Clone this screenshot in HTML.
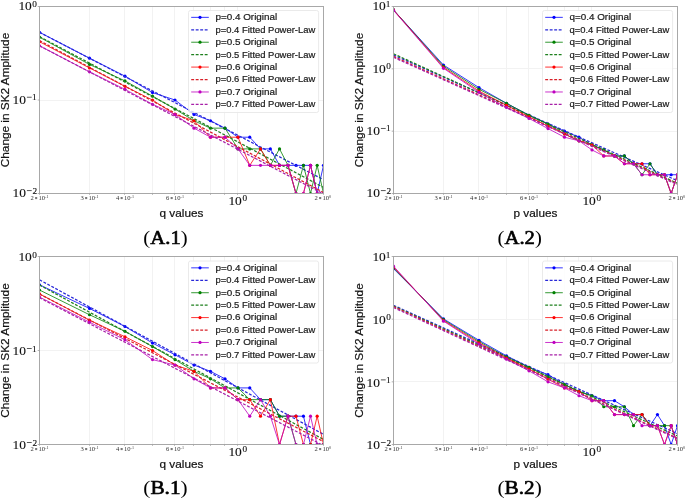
<!DOCTYPE html>
<html><head><meta charset="utf-8"><title>Figure</title>
<style>html,body{margin:0;padding:0;background:#fff;width:685px;height:499px;overflow:hidden}svg{display:block;will-change:transform}</style>
</head><body>
<svg width="685" height="499" viewBox="0 0 685 499"><defs><clipPath id="cA1"><rect x="39.5" y="6.5" width="284" height="187"/></clipPath><clipPath id="cA2"><rect x="393.5" y="6.5" width="284" height="187"/></clipPath><clipPath id="cB1"><rect x="39.5" y="256.5" width="284" height="188"/></clipPath><clipPath id="cB2"><rect x="393.5" y="256.5" width="284" height="188"/></clipPath></defs><g><path d="M89.5 6.5V193.5M124.5 6.5V193.5M152.5 6.5V193.5M174.5 6.5V193.5M193.5 6.5V193.5M210.5 6.5V193.5M224.5 6.5V193.5M237.5 6.5V193.5M39.5 100.5H323.5" stroke="#f2f2f2" stroke-width="1" fill="none"/><g clip-path="url(#cA1)"><polyline points="39.5,32.28 89.51,58.19 124.99,76.13 152.51,92.6 175,100 194.02,114.48 210.49,120.74 225.01,128.15 238.01,137.21 249.76,137.21 260.49,148.89 270.37,148.89 279.51,165.35 288.02,165.35 295.98,165.35 303.45,165.35 310.5,165.35 317.17,193.5 323.5,165.35" fill="none" stroke="#0000ff" stroke-width="0.8" stroke-linejoin="round"/><circle cx="39.5" cy="32.28" r="1.6" fill="#0000ff"/><circle cx="89.51" cy="58.19" r="1.6" fill="#0000ff"/><circle cx="124.99" cy="76.13" r="1.6" fill="#0000ff"/><circle cx="152.51" cy="92.6" r="1.6" fill="#0000ff"/><circle cx="175" cy="100" r="1.6" fill="#0000ff"/><circle cx="194.02" cy="114.48" r="1.6" fill="#0000ff"/><circle cx="210.49" cy="120.74" r="1.6" fill="#0000ff"/><circle cx="225.01" cy="128.15" r="1.6" fill="#0000ff"/><circle cx="238.01" cy="137.21" r="1.6" fill="#0000ff"/><circle cx="249.76" cy="137.21" r="1.6" fill="#0000ff"/><circle cx="260.49" cy="148.89" r="1.6" fill="#0000ff"/><circle cx="270.37" cy="148.89" r="1.6" fill="#0000ff"/><circle cx="279.51" cy="165.35" r="1.6" fill="#0000ff"/><circle cx="288.02" cy="165.35" r="1.6" fill="#0000ff"/><circle cx="295.98" cy="165.35" r="1.6" fill="#0000ff"/><circle cx="303.45" cy="165.35" r="1.6" fill="#0000ff"/><circle cx="310.5" cy="165.35" r="1.6" fill="#0000ff"/><circle cx="317.17" cy="193.5" r="1.6" fill="#0000ff"/><circle cx="323.5" cy="165.35" r="1.6" fill="#0000ff"/><line x1="39.5" y1="32.3" x2="323.5" y2="179.7" stroke="#2828d8" stroke-width="1.25" stroke-dasharray="2.9 1.6"/><polyline points="39.5,37.16 89.51,64.45 124.99,80.91 152.51,96.13 175,109.06 194.02,120.74 210.49,128.15 225.01,128.15 238.01,148.89 249.76,148.89 260.49,148.89 270.37,165.35 279.51,148.89 288.02,165.35 295.98,193.5 303.45,165.35 310.5,193.5 317.17,165.35 323.5,193.5" fill="none" stroke="#008000" stroke-width="0.8" stroke-linejoin="round"/><circle cx="39.5" cy="37.16" r="1.6" fill="#008000"/><circle cx="89.51" cy="64.45" r="1.6" fill="#008000"/><circle cx="124.99" cy="80.91" r="1.6" fill="#008000"/><circle cx="152.51" cy="96.13" r="1.6" fill="#008000"/><circle cx="175" cy="109.06" r="1.6" fill="#008000"/><circle cx="194.02" cy="120.74" r="1.6" fill="#008000"/><circle cx="210.49" cy="128.15" r="1.6" fill="#008000"/><circle cx="225.01" cy="128.15" r="1.6" fill="#008000"/><circle cx="238.01" cy="148.89" r="1.6" fill="#008000"/><circle cx="249.76" cy="148.89" r="1.6" fill="#008000"/><circle cx="260.49" cy="148.89" r="1.6" fill="#008000"/><circle cx="270.37" cy="165.35" r="1.6" fill="#008000"/><circle cx="279.51" cy="148.89" r="1.6" fill="#008000"/><circle cx="288.02" cy="165.35" r="1.6" fill="#008000"/><circle cx="295.98" cy="193.5" r="1.6" fill="#008000"/><circle cx="303.45" cy="165.35" r="1.6" fill="#008000"/><circle cx="310.5" cy="193.5" r="1.6" fill="#008000"/><circle cx="317.17" cy="165.35" r="1.6" fill="#008000"/><circle cx="323.5" cy="193.5" r="1.6" fill="#008000"/><line x1="39.5" y1="36.6" x2="323.5" y2="187.4" stroke="#1e801e" stroke-width="1.25" stroke-dasharray="2.9 1.6"/><polyline points="39.5,41.73 89.51,67.98 124.99,86.34 152.51,100 175,114.48 194.02,120.74 210.49,137.21 225.01,137.21 238.01,137.21 249.76,165.35 260.49,148.89 270.37,165.35 279.51,165.35 288.02,165.35 295.98,193.5 303.45,193.5 310.5,165.35 317.17,193.5 323.5,193.5" fill="none" stroke="#ff0000" stroke-width="0.8" stroke-linejoin="round"/><circle cx="39.5" cy="41.73" r="1.6" fill="#ff0000"/><circle cx="89.51" cy="67.98" r="1.6" fill="#ff0000"/><circle cx="124.99" cy="86.34" r="1.6" fill="#ff0000"/><circle cx="152.51" cy="100" r="1.6" fill="#ff0000"/><circle cx="175" cy="114.48" r="1.6" fill="#ff0000"/><circle cx="194.02" cy="120.74" r="1.6" fill="#ff0000"/><circle cx="210.49" cy="137.21" r="1.6" fill="#ff0000"/><circle cx="225.01" cy="137.21" r="1.6" fill="#ff0000"/><circle cx="238.01" cy="137.21" r="1.6" fill="#ff0000"/><circle cx="249.76" cy="165.35" r="1.6" fill="#ff0000"/><circle cx="260.49" cy="148.89" r="1.6" fill="#ff0000"/><circle cx="270.37" cy="165.35" r="1.6" fill="#ff0000"/><circle cx="279.51" cy="165.35" r="1.6" fill="#ff0000"/><circle cx="288.02" cy="165.35" r="1.6" fill="#ff0000"/><circle cx="295.98" cy="193.5" r="1.6" fill="#ff0000"/><circle cx="303.45" cy="193.5" r="1.6" fill="#ff0000"/><circle cx="310.5" cy="165.35" r="1.6" fill="#ff0000"/><circle cx="317.17" cy="193.5" r="1.6" fill="#ff0000"/><circle cx="323.5" cy="193.5" r="1.6" fill="#ff0000"/><line x1="39.5" y1="40.6" x2="323.5" y2="192.5" stroke="#d82028" stroke-width="1.25" stroke-dasharray="2.9 1.6"/><polyline points="39.5,45.79 89.51,71.85 124.99,89.35 152.51,104.28 175,114.48 194.02,128.15 210.49,137.21 225.01,137.21 238.01,148.89 249.76,165.35 260.49,165.35 270.37,165.35 279.51,165.35 288.02,165.35 295.98,193.5 303.45,193.5 310.5,165.35 317.17,193.5 323.5,193.5" fill="none" stroke="#bf00bf" stroke-width="0.8" stroke-linejoin="round"/><circle cx="39.5" cy="45.79" r="1.6" fill="#bf00bf"/><circle cx="89.51" cy="71.85" r="1.6" fill="#bf00bf"/><circle cx="124.99" cy="89.35" r="1.6" fill="#bf00bf"/><circle cx="152.51" cy="104.28" r="1.6" fill="#bf00bf"/><circle cx="175" cy="114.48" r="1.6" fill="#bf00bf"/><circle cx="194.02" cy="128.15" r="1.6" fill="#bf00bf"/><circle cx="210.49" cy="137.21" r="1.6" fill="#bf00bf"/><circle cx="225.01" cy="137.21" r="1.6" fill="#bf00bf"/><circle cx="238.01" cy="148.89" r="1.6" fill="#bf00bf"/><circle cx="249.76" cy="165.35" r="1.6" fill="#bf00bf"/><circle cx="260.49" cy="165.35" r="1.6" fill="#bf00bf"/><circle cx="270.37" cy="165.35" r="1.6" fill="#bf00bf"/><circle cx="279.51" cy="165.35" r="1.6" fill="#bf00bf"/><circle cx="288.02" cy="165.35" r="1.6" fill="#bf00bf"/><circle cx="295.98" cy="193.5" r="1.6" fill="#bf00bf"/><circle cx="303.45" cy="193.5" r="1.6" fill="#bf00bf"/><circle cx="310.5" cy="165.35" r="1.6" fill="#bf00bf"/><circle cx="317.17" cy="193.5" r="1.6" fill="#bf00bf"/><circle cx="323.5" cy="193.5" r="1.6" fill="#bf00bf"/><line x1="39.5" y1="45.8" x2="323.5" y2="194" stroke="#a820a8" stroke-width="1.25" stroke-dasharray="2.9 1.6"/></g><rect x="39.5" y="6.5" width="284" height="187" fill="none" stroke="#a8a8a8" stroke-width="1"/><path d="M37.7 193.5H39.5M37.7 100H39.5M37.7 6.5H39.5M39.5 193.5V194.8M89.5 193.5V194.8M124.5 193.5V194.8M152.5 193.5V194.8M174.5 193.5V194.8M193.5 193.5V194.8M210.5 193.5V194.8M224.5 193.5V194.8M237.5 193.5V194.8M323.5 193.5V194.8" stroke="#a0a0a0" stroke-width="0.8" fill="none"/><text transform="translate(12.49 197.40) scale(1.150 1)" style="font-family:&quot;Liberation Serif&quot;,serif;font-size:11.7px" fill="#111" stroke="#111" stroke-width="0.1">10</text><rect x="26.90" y="190.30" width="4.8" height="0.75" fill="#222"/><text transform="translate(32.38 193.60) scale(1.120 1)" style="font-family:&quot;Liberation Serif&quot;,serif;font-size:8.3px" fill="#111" stroke="#111" stroke-width="0.12">2</text><text transform="translate(12.49 103.90) scale(1.150 1)" style="font-family:&quot;Liberation Serif&quot;,serif;font-size:11.7px" fill="#111" stroke="#111" stroke-width="0.1">10</text><rect x="26.90" y="96.80" width="4.8" height="0.75" fill="#222"/><text transform="translate(31.96 100.10) scale(1.120 1)" style="font-family:&quot;Liberation Serif&quot;,serif;font-size:8.3px" fill="#111" stroke="#111" stroke-width="0.12">1</text><text transform="translate(18.39 10.40) scale(1.150 1)" style="font-family:&quot;Liberation Serif&quot;,serif;font-size:11.7px" fill="#111" stroke="#111" stroke-width="0.1">10</text><text transform="translate(32.13 6.60) scale(1.120 1)" style="font-family:&quot;Liberation Serif&quot;,serif;font-size:8.3px" fill="#111" stroke="#111" stroke-width="0.12">0</text><text transform="translate(30.55 200.00) scale(1.120 1)" style="font-family:&quot;Liberation Serif&quot;,serif;font-size:5.9px" fill="#333">2</text><rect x="35.10" y="197.00" width="2.1" height="2.1" fill="#7a7a7a"/><text transform="translate(38.51 200.00) scale(1.120 1)" style="font-family:&quot;Liberation Serif&quot;,serif;font-size:5.9px" fill="#333">10</text><rect x="44.95" y="197.10" width="1.4" height="0.5" fill="#888"/><text transform="translate(46.38 198.30) scale(1.100 1)" style="font-family:&quot;Liberation Serif&quot;,serif;font-size:3.7px" fill="#333">1</text><text transform="translate(80.53 200.00) scale(1.120 1)" style="font-family:&quot;Liberation Serif&quot;,serif;font-size:5.9px" fill="#333">3</text><rect x="85.11" y="197.00" width="2.1" height="2.1" fill="#7a7a7a"/><text transform="translate(88.52 200.00) scale(1.120 1)" style="font-family:&quot;Liberation Serif&quot;,serif;font-size:5.9px" fill="#333">10</text><rect x="94.96" y="197.10" width="1.4" height="0.5" fill="#888"/><text transform="translate(96.39 198.30) scale(1.100 1)" style="font-family:&quot;Liberation Serif&quot;,serif;font-size:3.7px" fill="#333">1</text><text transform="translate(116.01 200.00) scale(1.120 1)" style="font-family:&quot;Liberation Serif&quot;,serif;font-size:5.9px" fill="#333">4</text><rect x="120.59" y="197.00" width="2.1" height="2.1" fill="#7a7a7a"/><text transform="translate(124.00 200.00) scale(1.120 1)" style="font-family:&quot;Liberation Serif&quot;,serif;font-size:5.9px" fill="#333">10</text><rect x="130.44" y="197.10" width="1.4" height="0.5" fill="#888"/><text transform="translate(131.88 198.30) scale(1.100 1)" style="font-family:&quot;Liberation Serif&quot;,serif;font-size:3.7px" fill="#333">1</text><text transform="translate(166.02 200.00) scale(1.120 1)" style="font-family:&quot;Liberation Serif&quot;,serif;font-size:5.9px" fill="#333">6</text><rect x="170.60" y="197.00" width="2.1" height="2.1" fill="#7a7a7a"/><text transform="translate(174.01 200.00) scale(1.120 1)" style="font-family:&quot;Liberation Serif&quot;,serif;font-size:5.9px" fill="#333">10</text><rect x="180.45" y="197.10" width="1.4" height="0.5" fill="#888"/><text transform="translate(181.89 198.30) scale(1.100 1)" style="font-family:&quot;Liberation Serif&quot;,serif;font-size:3.7px" fill="#333">1</text><text transform="translate(314.55 200.00) scale(1.120 1)" style="font-family:&quot;Liberation Serif&quot;,serif;font-size:5.9px" fill="#333">2</text><rect x="319.10" y="197.00" width="2.1" height="2.1" fill="#7a7a7a"/><text transform="translate(322.51 200.00) scale(1.120 1)" style="font-family:&quot;Liberation Serif&quot;,serif;font-size:5.9px" fill="#333">10</text><text transform="translate(328.89 198.30) scale(1.100 1)" style="font-family:&quot;Liberation Serif&quot;,serif;font-size:3.7px" fill="#333">0</text><text transform="translate(228.40 205.00) scale(1.150 1)" style="font-family:&quot;Liberation Serif&quot;,serif;font-size:11.7px" fill="#111" stroke="#111" stroke-width="0.1">10</text><text transform="translate(242.44 200.70) scale(1.120 1)" style="font-family:&quot;Liberation Serif&quot;,serif;font-size:8.3px" fill="#111" stroke="#111" stroke-width="0.12">0</text><text x="181.5" y="216.6" text-anchor="middle" textLength="43.9" lengthAdjust="spacingAndGlyphs" style="font-family:&quot;Liberation Sans&quot;,sans-serif;font-size:11px" fill="#111" stroke="#111" stroke-width="0.2">q values</text><text transform="translate(8.7 100) rotate(-90)" x="0" y="0" text-anchor="middle" textLength="134.5" lengthAdjust="spacingAndGlyphs" style="font-family:&quot;Liberation Sans&quot;,sans-serif;font-size:11px" fill="#111" stroke="#111" stroke-width="0.2">Change in SK2 Amplitude</text><rect x="188.5" y="10.5" width="130.1" height="102" rx="2" ry="2" fill="#ffffff" fill-opacity="0.8" stroke="#e4e4e4" stroke-width="0.8"/><line x1="191.2" y1="17.35" x2="208.8" y2="17.35" stroke="#0000ff" stroke-width="0.8"/><circle cx="200" cy="17.35" r="1.6" fill="#0000ff"/><text x="215.5" y="20.25" textLength="61.7" lengthAdjust="spacingAndGlyphs" style="font-family:&quot;Liberation Sans&quot;,sans-serif;font-size:9px" fill="#1a1a1a" stroke="#1a1a1a" stroke-width="0.2">p=0.4 Original</text><line x1="191.2" y1="29.79" x2="208.8" y2="29.79" stroke="#2828d8" stroke-width="1.25" stroke-dasharray="2.9 1.6"/><text x="215.5" y="32.69" textLength="99.7" lengthAdjust="spacingAndGlyphs" style="font-family:&quot;Liberation Sans&quot;,sans-serif;font-size:9px" fill="#1a1a1a" stroke="#1a1a1a" stroke-width="0.2">p=0.4 Fitted Power-Law</text><line x1="191.2" y1="42.22" x2="208.8" y2="42.22" stroke="#008000" stroke-width="0.8"/><circle cx="200" cy="42.22" r="1.6" fill="#008000"/><text x="215.5" y="45.12" textLength="61.7" lengthAdjust="spacingAndGlyphs" style="font-family:&quot;Liberation Sans&quot;,sans-serif;font-size:9px" fill="#1a1a1a" stroke="#1a1a1a" stroke-width="0.2">p=0.5 Original</text><line x1="191.2" y1="54.66" x2="208.8" y2="54.66" stroke="#1e801e" stroke-width="1.25" stroke-dasharray="2.9 1.6"/><text x="215.5" y="57.56" textLength="99.7" lengthAdjust="spacingAndGlyphs" style="font-family:&quot;Liberation Sans&quot;,sans-serif;font-size:9px" fill="#1a1a1a" stroke="#1a1a1a" stroke-width="0.2">p=0.5 Fitted Power-Law</text><line x1="191.2" y1="67.09" x2="208.8" y2="67.09" stroke="#ff0000" stroke-width="0.8"/><circle cx="200" cy="67.09" r="1.6" fill="#ff0000"/><text x="215.5" y="69.99" textLength="61.7" lengthAdjust="spacingAndGlyphs" style="font-family:&quot;Liberation Sans&quot;,sans-serif;font-size:9px" fill="#1a1a1a" stroke="#1a1a1a" stroke-width="0.2">p=0.6 Original</text><line x1="191.2" y1="79.53" x2="208.8" y2="79.53" stroke="#d82028" stroke-width="1.25" stroke-dasharray="2.9 1.6"/><text x="215.5" y="82.43" textLength="99.7" lengthAdjust="spacingAndGlyphs" style="font-family:&quot;Liberation Sans&quot;,sans-serif;font-size:9px" fill="#1a1a1a" stroke="#1a1a1a" stroke-width="0.2">p=0.6 Fitted Power-Law</text><line x1="191.2" y1="91.97" x2="208.8" y2="91.97" stroke="#bf00bf" stroke-width="0.8"/><circle cx="200" cy="91.97" r="1.6" fill="#bf00bf"/><text x="215.5" y="94.87" textLength="61.7" lengthAdjust="spacingAndGlyphs" style="font-family:&quot;Liberation Sans&quot;,sans-serif;font-size:9px" fill="#1a1a1a" stroke="#1a1a1a" stroke-width="0.2">p=0.7 Original</text><line x1="191.2" y1="104.4" x2="208.8" y2="104.4" stroke="#a820a8" stroke-width="1.25" stroke-dasharray="2.9 1.6"/><text x="215.5" y="107.3" textLength="99.7" lengthAdjust="spacingAndGlyphs" style="font-family:&quot;Liberation Sans&quot;,sans-serif;font-size:9px" fill="#1a1a1a" stroke="#1a1a1a" stroke-width="0.2">p=0.7 Fitted Power-Law</text><text x="165.5" y="243.5" text-anchor="middle" textLength="44.3" lengthAdjust="spacingAndGlyphs" style="font-family:&quot;Liberation Serif&quot;,serif;font-size:18.6px" fill="#000">(<tspan stroke="#000" stroke-width="0.6">A.1</tspan>)</text></g>
<g><path d="M443.5 6.5V193.5M478.5 6.5V193.5M506.5 6.5V193.5M528.5 6.5V193.5M547.5 6.5V193.5M564.5 6.5V193.5M578.5 6.5V193.5M591.5 6.5V193.5M393.5 131.5H677.5M393.5 68.5H677.5" stroke="#f2f2f2" stroke-width="1" fill="none"/><g clip-path="url(#cA2)"><polyline points="393.5,9.96 443.51,65.05 478.99,87.6 506.51,103.29 529,115.25 548.02,124.06 564.49,131.17 579.01,137.21 592.01,145 603.76,149.93 614.49,155.97 624.37,155.97 633.51,163.76 642.02,163.76 649.98,163.76 657.45,174.74 664.5,174.74 671.17,174.74 677.5,174.74" fill="none" stroke="#0000ff" stroke-width="0.8" stroke-linejoin="round"/><circle cx="393.5" cy="9.96" r="1.6" fill="#0000ff"/><circle cx="443.51" cy="65.05" r="1.6" fill="#0000ff"/><circle cx="478.99" cy="87.6" r="1.6" fill="#0000ff"/><circle cx="506.51" cy="103.29" r="1.6" fill="#0000ff"/><circle cx="529" cy="115.25" r="1.6" fill="#0000ff"/><circle cx="548.02" cy="124.06" r="1.6" fill="#0000ff"/><circle cx="564.49" cy="131.17" r="1.6" fill="#0000ff"/><circle cx="579.01" cy="137.21" r="1.6" fill="#0000ff"/><circle cx="592.01" cy="145" r="1.6" fill="#0000ff"/><circle cx="603.76" cy="149.93" r="1.6" fill="#0000ff"/><circle cx="614.49" cy="155.97" r="1.6" fill="#0000ff"/><circle cx="624.37" cy="155.97" r="1.6" fill="#0000ff"/><circle cx="633.51" cy="163.76" r="1.6" fill="#0000ff"/><circle cx="642.02" cy="163.76" r="1.6" fill="#0000ff"/><circle cx="649.98" cy="163.76" r="1.6" fill="#0000ff"/><circle cx="657.45" cy="174.74" r="1.6" fill="#0000ff"/><circle cx="664.5" cy="174.74" r="1.6" fill="#0000ff"/><circle cx="671.17" cy="174.74" r="1.6" fill="#0000ff"/><circle cx="677.5" cy="174.74" r="1.6" fill="#0000ff"/><line x1="393.5" y1="55" x2="677.5" y2="180.7" stroke="#2828d8" stroke-width="1.25" stroke-dasharray="2.9 1.6"/><polyline points="393.5,9.96 443.51,66.25 478.99,89.27 506.51,103.29 529,115.25 548.02,124.06 564.49,134.02 579.01,140.82 592.01,145 603.76,149.93 614.49,155.97 624.37,155.97 633.51,163.76 642.02,174.74 649.98,163.76 657.45,174.74 664.5,174.74 671.17,193.5 677.5,174.74" fill="none" stroke="#008000" stroke-width="0.8" stroke-linejoin="round"/><circle cx="393.5" cy="9.96" r="1.6" fill="#008000"/><circle cx="443.51" cy="66.25" r="1.6" fill="#008000"/><circle cx="478.99" cy="89.27" r="1.6" fill="#008000"/><circle cx="506.51" cy="103.29" r="1.6" fill="#008000"/><circle cx="529" cy="115.25" r="1.6" fill="#008000"/><circle cx="548.02" cy="124.06" r="1.6" fill="#008000"/><circle cx="564.49" cy="134.02" r="1.6" fill="#008000"/><circle cx="579.01" cy="140.82" r="1.6" fill="#008000"/><circle cx="592.01" cy="145" r="1.6" fill="#008000"/><circle cx="603.76" cy="149.93" r="1.6" fill="#008000"/><circle cx="614.49" cy="155.97" r="1.6" fill="#008000"/><circle cx="624.37" cy="155.97" r="1.6" fill="#008000"/><circle cx="633.51" cy="163.76" r="1.6" fill="#008000"/><circle cx="642.02" cy="174.74" r="1.6" fill="#008000"/><circle cx="649.98" cy="163.76" r="1.6" fill="#008000"/><circle cx="657.45" cy="174.74" r="1.6" fill="#008000"/><circle cx="664.5" cy="174.74" r="1.6" fill="#008000"/><circle cx="671.17" cy="193.5" r="1.6" fill="#008000"/><circle cx="677.5" cy="174.74" r="1.6" fill="#008000"/><line x1="393.5" y1="53.8" x2="677.5" y2="183.3" stroke="#1e801e" stroke-width="1.25" stroke-dasharray="2.9 1.6"/><polyline points="393.5,9.96 443.51,67.51 478.99,91.06 506.51,105.3 529,116.8 548.02,126.23 564.49,134.02 579.01,140.82 592.01,145 603.76,155.97 614.49,155.97 624.37,163.76 633.51,163.76 642.02,163.76 649.98,174.74 657.45,174.74 664.5,174.74 671.17,193.5 677.5,174.74" fill="none" stroke="#ff0000" stroke-width="0.8" stroke-linejoin="round"/><circle cx="393.5" cy="9.96" r="1.6" fill="#ff0000"/><circle cx="443.51" cy="67.51" r="1.6" fill="#ff0000"/><circle cx="478.99" cy="91.06" r="1.6" fill="#ff0000"/><circle cx="506.51" cy="105.3" r="1.6" fill="#ff0000"/><circle cx="529" cy="116.8" r="1.6" fill="#ff0000"/><circle cx="548.02" cy="126.23" r="1.6" fill="#ff0000"/><circle cx="564.49" cy="134.02" r="1.6" fill="#ff0000"/><circle cx="579.01" cy="140.82" r="1.6" fill="#ff0000"/><circle cx="592.01" cy="145" r="1.6" fill="#ff0000"/><circle cx="603.76" cy="155.97" r="1.6" fill="#ff0000"/><circle cx="614.49" cy="155.97" r="1.6" fill="#ff0000"/><circle cx="624.37" cy="163.76" r="1.6" fill="#ff0000"/><circle cx="633.51" cy="163.76" r="1.6" fill="#ff0000"/><circle cx="642.02" cy="163.76" r="1.6" fill="#ff0000"/><circle cx="649.98" cy="174.74" r="1.6" fill="#ff0000"/><circle cx="657.45" cy="174.74" r="1.6" fill="#ff0000"/><circle cx="664.5" cy="174.74" r="1.6" fill="#ff0000"/><circle cx="671.17" cy="193.5" r="1.6" fill="#ff0000"/><circle cx="677.5" cy="174.74" r="1.6" fill="#ff0000"/><line x1="393.5" y1="56.4" x2="677.5" y2="184" stroke="#d82028" stroke-width="1.25" stroke-dasharray="2.9 1.6"/><polyline points="393.5,10.27 443.51,68.3 478.99,92.32 506.51,107.47 529,118.44 548.02,128.59 564.49,137.21 579.01,140.82 592.01,149.93 603.76,155.97 614.49,155.97 624.37,163.76 633.51,163.76 642.02,174.74 649.98,174.74 657.45,174.74 664.5,174.74 671.17,193.5 677.5,174.74" fill="none" stroke="#bf00bf" stroke-width="0.8" stroke-linejoin="round"/><circle cx="393.5" cy="10.27" r="1.6" fill="#bf00bf"/><circle cx="443.51" cy="68.3" r="1.6" fill="#bf00bf"/><circle cx="478.99" cy="92.32" r="1.6" fill="#bf00bf"/><circle cx="506.51" cy="107.47" r="1.6" fill="#bf00bf"/><circle cx="529" cy="118.44" r="1.6" fill="#bf00bf"/><circle cx="548.02" cy="128.59" r="1.6" fill="#bf00bf"/><circle cx="564.49" cy="137.21" r="1.6" fill="#bf00bf"/><circle cx="579.01" cy="140.82" r="1.6" fill="#bf00bf"/><circle cx="592.01" cy="149.93" r="1.6" fill="#bf00bf"/><circle cx="603.76" cy="155.97" r="1.6" fill="#bf00bf"/><circle cx="614.49" cy="155.97" r="1.6" fill="#bf00bf"/><circle cx="624.37" cy="163.76" r="1.6" fill="#bf00bf"/><circle cx="633.51" cy="163.76" r="1.6" fill="#bf00bf"/><circle cx="642.02" cy="174.74" r="1.6" fill="#bf00bf"/><circle cx="649.98" cy="174.74" r="1.6" fill="#bf00bf"/><circle cx="657.45" cy="174.74" r="1.6" fill="#bf00bf"/><circle cx="664.5" cy="174.74" r="1.6" fill="#bf00bf"/><circle cx="671.17" cy="193.5" r="1.6" fill="#bf00bf"/><circle cx="677.5" cy="174.74" r="1.6" fill="#bf00bf"/><line x1="393.5" y1="57.3" x2="677.5" y2="184.6" stroke="#a820a8" stroke-width="1.25" stroke-dasharray="2.9 1.6"/></g><rect x="393.5" y="6.5" width="284" height="187" fill="none" stroke="#a8a8a8" stroke-width="1"/><path d="M391.7 193.5H393.5M391.7 131.17H393.5M391.7 68.83H393.5M391.7 6.5H393.5M393.5 193.5V194.8M443.5 193.5V194.8M478.5 193.5V194.8M506.5 193.5V194.8M528.5 193.5V194.8M547.5 193.5V194.8M564.5 193.5V194.8M578.5 193.5V194.8M591.5 193.5V194.8M677.5 193.5V194.8" stroke="#a0a0a0" stroke-width="0.8" fill="none"/><text transform="translate(366.49 197.40) scale(1.150 1)" style="font-family:&quot;Liberation Serif&quot;,serif;font-size:11.7px" fill="#111" stroke="#111" stroke-width="0.1">10</text><rect x="380.90" y="190.30" width="4.8" height="0.75" fill="#222"/><text transform="translate(386.38 193.60) scale(1.120 1)" style="font-family:&quot;Liberation Serif&quot;,serif;font-size:8.3px" fill="#111" stroke="#111" stroke-width="0.12">2</text><text transform="translate(366.49 135.07) scale(1.150 1)" style="font-family:&quot;Liberation Serif&quot;,serif;font-size:11.7px" fill="#111" stroke="#111" stroke-width="0.1">10</text><rect x="380.90" y="127.97" width="4.8" height="0.75" fill="#222"/><text transform="translate(385.96 131.27) scale(1.120 1)" style="font-family:&quot;Liberation Serif&quot;,serif;font-size:8.3px" fill="#111" stroke="#111" stroke-width="0.12">1</text><text transform="translate(372.39 72.73) scale(1.150 1)" style="font-family:&quot;Liberation Serif&quot;,serif;font-size:11.7px" fill="#111" stroke="#111" stroke-width="0.1">10</text><text transform="translate(386.13 68.93) scale(1.120 1)" style="font-family:&quot;Liberation Serif&quot;,serif;font-size:8.3px" fill="#111" stroke="#111" stroke-width="0.12">0</text><text transform="translate(372.39 10.40) scale(1.150 1)" style="font-family:&quot;Liberation Serif&quot;,serif;font-size:11.7px" fill="#111" stroke="#111" stroke-width="0.1">10</text><text transform="translate(385.66 6.60) scale(1.120 1)" style="font-family:&quot;Liberation Serif&quot;,serif;font-size:8.3px" fill="#111" stroke="#111" stroke-width="0.12">1</text><text transform="translate(384.55 200.00) scale(1.120 1)" style="font-family:&quot;Liberation Serif&quot;,serif;font-size:5.9px" fill="#333">2</text><rect x="389.10" y="197.00" width="2.1" height="2.1" fill="#7a7a7a"/><text transform="translate(392.51 200.00) scale(1.120 1)" style="font-family:&quot;Liberation Serif&quot;,serif;font-size:5.9px" fill="#333">10</text><rect x="398.95" y="197.10" width="1.4" height="0.5" fill="#888"/><text transform="translate(400.38 198.30) scale(1.100 1)" style="font-family:&quot;Liberation Serif&quot;,serif;font-size:3.7px" fill="#333">1</text><text transform="translate(434.53 200.00) scale(1.120 1)" style="font-family:&quot;Liberation Serif&quot;,serif;font-size:5.9px" fill="#333">3</text><rect x="439.11" y="197.00" width="2.1" height="2.1" fill="#7a7a7a"/><text transform="translate(442.52 200.00) scale(1.120 1)" style="font-family:&quot;Liberation Serif&quot;,serif;font-size:5.9px" fill="#333">10</text><rect x="448.96" y="197.10" width="1.4" height="0.5" fill="#888"/><text transform="translate(450.39 198.30) scale(1.100 1)" style="font-family:&quot;Liberation Serif&quot;,serif;font-size:3.7px" fill="#333">1</text><text transform="translate(470.01 200.00) scale(1.120 1)" style="font-family:&quot;Liberation Serif&quot;,serif;font-size:5.9px" fill="#333">4</text><rect x="474.59" y="197.00" width="2.1" height="2.1" fill="#7a7a7a"/><text transform="translate(478.00 200.00) scale(1.120 1)" style="font-family:&quot;Liberation Serif&quot;,serif;font-size:5.9px" fill="#333">10</text><rect x="484.44" y="197.10" width="1.4" height="0.5" fill="#888"/><text transform="translate(485.88 198.30) scale(1.100 1)" style="font-family:&quot;Liberation Serif&quot;,serif;font-size:3.7px" fill="#333">1</text><text transform="translate(520.02 200.00) scale(1.120 1)" style="font-family:&quot;Liberation Serif&quot;,serif;font-size:5.9px" fill="#333">6</text><rect x="524.60" y="197.00" width="2.1" height="2.1" fill="#7a7a7a"/><text transform="translate(528.01 200.00) scale(1.120 1)" style="font-family:&quot;Liberation Serif&quot;,serif;font-size:5.9px" fill="#333">10</text><rect x="534.45" y="197.10" width="1.4" height="0.5" fill="#888"/><text transform="translate(535.89 198.30) scale(1.100 1)" style="font-family:&quot;Liberation Serif&quot;,serif;font-size:3.7px" fill="#333">1</text><text transform="translate(668.55 200.00) scale(1.120 1)" style="font-family:&quot;Liberation Serif&quot;,serif;font-size:5.9px" fill="#333">2</text><rect x="673.10" y="197.00" width="2.1" height="2.1" fill="#7a7a7a"/><text transform="translate(676.51 200.00) scale(1.120 1)" style="font-family:&quot;Liberation Serif&quot;,serif;font-size:5.9px" fill="#333">10</text><text transform="translate(682.89 198.30) scale(1.100 1)" style="font-family:&quot;Liberation Serif&quot;,serif;font-size:3.7px" fill="#333">0</text><text transform="translate(582.40 205.00) scale(1.150 1)" style="font-family:&quot;Liberation Serif&quot;,serif;font-size:11.7px" fill="#111" stroke="#111" stroke-width="0.1">10</text><text transform="translate(596.44 200.70) scale(1.120 1)" style="font-family:&quot;Liberation Serif&quot;,serif;font-size:8.3px" fill="#111" stroke="#111" stroke-width="0.12">0</text><text x="535.5" y="216.6" text-anchor="middle" textLength="43.9" lengthAdjust="spacingAndGlyphs" style="font-family:&quot;Liberation Sans&quot;,sans-serif;font-size:11px" fill="#111" stroke="#111" stroke-width="0.2">p values</text><text transform="translate(362.7 100) rotate(-90)" x="0" y="0" text-anchor="middle" textLength="134.5" lengthAdjust="spacingAndGlyphs" style="font-family:&quot;Liberation Sans&quot;,sans-serif;font-size:11px" fill="#111" stroke="#111" stroke-width="0.2">Change in SK2 Amplitude</text><rect x="542.5" y="10.5" width="130.1" height="102" rx="2" ry="2" fill="#ffffff" fill-opacity="0.8" stroke="#e4e4e4" stroke-width="0.8"/><line x1="545.2" y1="17.35" x2="562.8" y2="17.35" stroke="#0000ff" stroke-width="0.8"/><circle cx="554" cy="17.35" r="1.6" fill="#0000ff"/><text x="569.5" y="20.25" textLength="61.7" lengthAdjust="spacingAndGlyphs" style="font-family:&quot;Liberation Sans&quot;,sans-serif;font-size:9px" fill="#1a1a1a" stroke="#1a1a1a" stroke-width="0.2">q=0.4 Original</text><line x1="545.2" y1="29.79" x2="562.8" y2="29.79" stroke="#2828d8" stroke-width="1.25" stroke-dasharray="2.9 1.6"/><text x="569.5" y="32.69" textLength="99.7" lengthAdjust="spacingAndGlyphs" style="font-family:&quot;Liberation Sans&quot;,sans-serif;font-size:9px" fill="#1a1a1a" stroke="#1a1a1a" stroke-width="0.2">q=0.4 Fitted Power-Law</text><line x1="545.2" y1="42.22" x2="562.8" y2="42.22" stroke="#008000" stroke-width="0.8"/><circle cx="554" cy="42.22" r="1.6" fill="#008000"/><text x="569.5" y="45.12" textLength="61.7" lengthAdjust="spacingAndGlyphs" style="font-family:&quot;Liberation Sans&quot;,sans-serif;font-size:9px" fill="#1a1a1a" stroke="#1a1a1a" stroke-width="0.2">q=0.5 Original</text><line x1="545.2" y1="54.66" x2="562.8" y2="54.66" stroke="#1e801e" stroke-width="1.25" stroke-dasharray="2.9 1.6"/><text x="569.5" y="57.56" textLength="99.7" lengthAdjust="spacingAndGlyphs" style="font-family:&quot;Liberation Sans&quot;,sans-serif;font-size:9px" fill="#1a1a1a" stroke="#1a1a1a" stroke-width="0.2">q=0.5 Fitted Power-Law</text><line x1="545.2" y1="67.09" x2="562.8" y2="67.09" stroke="#ff0000" stroke-width="0.8"/><circle cx="554" cy="67.09" r="1.6" fill="#ff0000"/><text x="569.5" y="69.99" textLength="61.7" lengthAdjust="spacingAndGlyphs" style="font-family:&quot;Liberation Sans&quot;,sans-serif;font-size:9px" fill="#1a1a1a" stroke="#1a1a1a" stroke-width="0.2">q=0.6 Original</text><line x1="545.2" y1="79.53" x2="562.8" y2="79.53" stroke="#d82028" stroke-width="1.25" stroke-dasharray="2.9 1.6"/><text x="569.5" y="82.43" textLength="99.7" lengthAdjust="spacingAndGlyphs" style="font-family:&quot;Liberation Sans&quot;,sans-serif;font-size:9px" fill="#1a1a1a" stroke="#1a1a1a" stroke-width="0.2">q=0.6 Fitted Power-Law</text><line x1="545.2" y1="91.97" x2="562.8" y2="91.97" stroke="#bf00bf" stroke-width="0.8"/><circle cx="554" cy="91.97" r="1.6" fill="#bf00bf"/><text x="569.5" y="94.87" textLength="61.7" lengthAdjust="spacingAndGlyphs" style="font-family:&quot;Liberation Sans&quot;,sans-serif;font-size:9px" fill="#1a1a1a" stroke="#1a1a1a" stroke-width="0.2">q=0.7 Original</text><line x1="545.2" y1="104.4" x2="562.8" y2="104.4" stroke="#a820a8" stroke-width="1.25" stroke-dasharray="2.9 1.6"/><text x="569.5" y="107.3" textLength="99.7" lengthAdjust="spacingAndGlyphs" style="font-family:&quot;Liberation Sans&quot;,sans-serif;font-size:9px" fill="#1a1a1a" stroke="#1a1a1a" stroke-width="0.2">q=0.7 Fitted Power-Law</text><text x="519.7" y="243.5" text-anchor="middle" textLength="44.3" lengthAdjust="spacingAndGlyphs" style="font-family:&quot;Liberation Serif&quot;,serif;font-size:18.6px" fill="#000">(<tspan stroke="#000" stroke-width="0.6">A.2</tspan>)</text></g>
<g><path d="M89.5 256.5V444.5M124.5 256.5V444.5M152.5 256.5V444.5M174.5 256.5V444.5M193.5 256.5V444.5M210.5 256.5V444.5M224.5 256.5V444.5M237.5 256.5V444.5M39.5 350.5H323.5" stroke="#f2f2f2" stroke-width="1" fill="none"/><g clip-path="url(#cB1)"><polyline points="39.5,284.8 89.51,308.47 124.99,326.5 152.51,343.06 175,354.8 194.02,365.06 210.49,371.35 225.01,378.8 238.01,387.91 249.76,387.91 260.49,399.65 270.37,399.65 279.51,416.2 288.02,416.2 295.98,416.2 303.45,416.2 310.5,444.5 317.17,444.5 323.5,444.5" fill="none" stroke="#0000ff" stroke-width="0.8" stroke-linejoin="round"/><circle cx="39.5" cy="284.8" r="1.6" fill="#0000ff"/><circle cx="89.51" cy="308.47" r="1.6" fill="#0000ff"/><circle cx="124.99" cy="326.5" r="1.6" fill="#0000ff"/><circle cx="152.51" cy="343.06" r="1.6" fill="#0000ff"/><circle cx="175" cy="354.8" r="1.6" fill="#0000ff"/><circle cx="194.02" cy="365.06" r="1.6" fill="#0000ff"/><circle cx="210.49" cy="371.35" r="1.6" fill="#0000ff"/><circle cx="225.01" cy="378.8" r="1.6" fill="#0000ff"/><circle cx="238.01" cy="387.91" r="1.6" fill="#0000ff"/><circle cx="249.76" cy="387.91" r="1.6" fill="#0000ff"/><circle cx="260.49" cy="399.65" r="1.6" fill="#0000ff"/><circle cx="270.37" cy="399.65" r="1.6" fill="#0000ff"/><circle cx="279.51" cy="416.2" r="1.6" fill="#0000ff"/><circle cx="288.02" cy="416.2" r="1.6" fill="#0000ff"/><circle cx="295.98" cy="416.2" r="1.6" fill="#0000ff"/><circle cx="303.45" cy="416.2" r="1.6" fill="#0000ff"/><circle cx="310.5" cy="444.5" r="1.6" fill="#0000ff"/><circle cx="317.17" cy="444.5" r="1.6" fill="#0000ff"/><circle cx="323.5" cy="444.5" r="1.6" fill="#0000ff"/><line x1="39.5" y1="279.8" x2="323.5" y2="434.3" stroke="#2828d8" stroke-width="1.25" stroke-dasharray="2.9 1.6"/><polyline points="39.5,290.02 89.51,314.76 124.99,331.31 152.51,346.61 175,359.61 194.02,371.35 210.49,378.8 225.01,387.91 238.01,387.91 249.76,399.65 260.49,399.65 270.37,399.65 279.51,416.2 288.02,416.2 295.98,444.5 303.45,444.5 310.5,444.5 317.17,444.5 323.5,444.5" fill="none" stroke="#008000" stroke-width="0.8" stroke-linejoin="round"/><circle cx="39.5" cy="290.02" r="1.6" fill="#008000"/><circle cx="89.51" cy="314.76" r="1.6" fill="#008000"/><circle cx="124.99" cy="331.31" r="1.6" fill="#008000"/><circle cx="152.51" cy="346.61" r="1.6" fill="#008000"/><circle cx="175" cy="359.61" r="1.6" fill="#008000"/><circle cx="194.02" cy="371.35" r="1.6" fill="#008000"/><circle cx="210.49" cy="378.8" r="1.6" fill="#008000"/><circle cx="225.01" cy="387.91" r="1.6" fill="#008000"/><circle cx="238.01" cy="387.91" r="1.6" fill="#008000"/><circle cx="249.76" cy="399.65" r="1.6" fill="#008000"/><circle cx="260.49" cy="399.65" r="1.6" fill="#008000"/><circle cx="270.37" cy="399.65" r="1.6" fill="#008000"/><circle cx="279.51" cy="416.2" r="1.6" fill="#008000"/><circle cx="288.02" cy="416.2" r="1.6" fill="#008000"/><circle cx="295.98" cy="444.5" r="1.6" fill="#008000"/><circle cx="303.45" cy="444.5" r="1.6" fill="#008000"/><circle cx="310.5" cy="444.5" r="1.6" fill="#008000"/><circle cx="317.17" cy="444.5" r="1.6" fill="#008000"/><circle cx="323.5" cy="444.5" r="1.6" fill="#008000"/><line x1="39.5" y1="285" x2="323.5" y2="439.4" stroke="#1e801e" stroke-width="1.25" stroke-dasharray="2.9 1.6"/><polyline points="39.5,293.91 89.51,320.21 124.99,336.76 152.51,350.5 175,365.06 194.02,371.35 210.49,387.91 225.01,387.91 238.01,399.65 249.76,399.65 260.49,416.2 270.37,399.65 279.51,444.5 288.02,416.2 295.98,416.2 303.45,444.5 310.5,444.5 317.17,416.2 323.5,444.5" fill="none" stroke="#ff0000" stroke-width="0.8" stroke-linejoin="round"/><circle cx="39.5" cy="293.91" r="1.6" fill="#ff0000"/><circle cx="89.51" cy="320.21" r="1.6" fill="#ff0000"/><circle cx="124.99" cy="336.76" r="1.6" fill="#ff0000"/><circle cx="152.51" cy="350.5" r="1.6" fill="#ff0000"/><circle cx="175" cy="365.06" r="1.6" fill="#ff0000"/><circle cx="194.02" cy="371.35" r="1.6" fill="#ff0000"/><circle cx="210.49" cy="387.91" r="1.6" fill="#ff0000"/><circle cx="225.01" cy="387.91" r="1.6" fill="#ff0000"/><circle cx="238.01" cy="399.65" r="1.6" fill="#ff0000"/><circle cx="249.76" cy="399.65" r="1.6" fill="#ff0000"/><circle cx="260.49" cy="416.2" r="1.6" fill="#ff0000"/><circle cx="270.37" cy="399.65" r="1.6" fill="#ff0000"/><circle cx="279.51" cy="444.5" r="1.6" fill="#ff0000"/><circle cx="288.02" cy="416.2" r="1.6" fill="#ff0000"/><circle cx="295.98" cy="416.2" r="1.6" fill="#ff0000"/><circle cx="303.45" cy="444.5" r="1.6" fill="#ff0000"/><circle cx="310.5" cy="444.5" r="1.6" fill="#ff0000"/><circle cx="317.17" cy="416.2" r="1.6" fill="#ff0000"/><circle cx="323.5" cy="444.5" r="1.6" fill="#ff0000"/><line x1="39.5" y1="294" x2="323.5" y2="441.6" stroke="#d82028" stroke-width="1.25" stroke-dasharray="2.9 1.6"/><polyline points="39.5,297.09 89.51,322.2 124.99,339.79 152.51,359.61 175,365.06 194.02,378.8 210.49,387.91 225.01,387.91 238.01,399.65 249.76,416.2 260.49,399.65 270.37,416.2 279.51,444.5 288.02,416.2 295.98,444.5 303.45,444.5 310.5,416.2 317.17,444.5 323.5,444.5" fill="none" stroke="#bf00bf" stroke-width="0.8" stroke-linejoin="round"/><circle cx="39.5" cy="297.09" r="1.6" fill="#bf00bf"/><circle cx="89.51" cy="322.2" r="1.6" fill="#bf00bf"/><circle cx="124.99" cy="339.79" r="1.6" fill="#bf00bf"/><circle cx="152.51" cy="359.61" r="1.6" fill="#bf00bf"/><circle cx="175" cy="365.06" r="1.6" fill="#bf00bf"/><circle cx="194.02" cy="378.8" r="1.6" fill="#bf00bf"/><circle cx="210.49" cy="387.91" r="1.6" fill="#bf00bf"/><circle cx="225.01" cy="387.91" r="1.6" fill="#bf00bf"/><circle cx="238.01" cy="399.65" r="1.6" fill="#bf00bf"/><circle cx="249.76" cy="416.2" r="1.6" fill="#bf00bf"/><circle cx="260.49" cy="399.65" r="1.6" fill="#bf00bf"/><circle cx="270.37" cy="416.2" r="1.6" fill="#bf00bf"/><circle cx="279.51" cy="444.5" r="1.6" fill="#bf00bf"/><circle cx="288.02" cy="416.2" r="1.6" fill="#bf00bf"/><circle cx="295.98" cy="444.5" r="1.6" fill="#bf00bf"/><circle cx="303.45" cy="444.5" r="1.6" fill="#bf00bf"/><circle cx="310.5" cy="416.2" r="1.6" fill="#bf00bf"/><circle cx="317.17" cy="444.5" r="1.6" fill="#bf00bf"/><circle cx="323.5" cy="444.5" r="1.6" fill="#bf00bf"/><line x1="39.5" y1="297.7" x2="323.5" y2="445.6" stroke="#a820a8" stroke-width="1.25" stroke-dasharray="2.9 1.6"/></g><rect x="39.5" y="256.5" width="284" height="188" fill="none" stroke="#a8a8a8" stroke-width="1"/><path d="M37.7 444.5H39.5M37.7 350.5H39.5M37.7 256.5H39.5M39.5 444.5V445.8M89.5 444.5V445.8M124.5 444.5V445.8M152.5 444.5V445.8M174.5 444.5V445.8M193.5 444.5V445.8M210.5 444.5V445.8M224.5 444.5V445.8M237.5 444.5V445.8M323.5 444.5V445.8" stroke="#a0a0a0" stroke-width="0.8" fill="none"/><text transform="translate(12.49 449.30) scale(1.150 1)" style="font-family:&quot;Liberation Serif&quot;,serif;font-size:11.7px" fill="#111" stroke="#111" stroke-width="0.1">10</text><rect x="26.90" y="442.20" width="4.8" height="0.75" fill="#222"/><text transform="translate(32.38 445.50) scale(1.120 1)" style="font-family:&quot;Liberation Serif&quot;,serif;font-size:8.3px" fill="#111" stroke="#111" stroke-width="0.12">2</text><text transform="translate(12.49 355.30) scale(1.150 1)" style="font-family:&quot;Liberation Serif&quot;,serif;font-size:11.7px" fill="#111" stroke="#111" stroke-width="0.1">10</text><rect x="26.90" y="348.20" width="4.8" height="0.75" fill="#222"/><text transform="translate(31.96 351.50) scale(1.120 1)" style="font-family:&quot;Liberation Serif&quot;,serif;font-size:8.3px" fill="#111" stroke="#111" stroke-width="0.12">1</text><text transform="translate(18.39 261.30) scale(1.150 1)" style="font-family:&quot;Liberation Serif&quot;,serif;font-size:11.7px" fill="#111" stroke="#111" stroke-width="0.1">10</text><text transform="translate(32.13 257.50) scale(1.120 1)" style="font-family:&quot;Liberation Serif&quot;,serif;font-size:8.3px" fill="#111" stroke="#111" stroke-width="0.12">0</text><text transform="translate(30.55 451.00) scale(1.120 1)" style="font-family:&quot;Liberation Serif&quot;,serif;font-size:5.9px" fill="#333">2</text><rect x="35.10" y="448.00" width="2.1" height="2.1" fill="#7a7a7a"/><text transform="translate(38.51 451.00) scale(1.120 1)" style="font-family:&quot;Liberation Serif&quot;,serif;font-size:5.9px" fill="#333">10</text><rect x="44.95" y="448.10" width="1.4" height="0.5" fill="#888"/><text transform="translate(46.38 449.30) scale(1.100 1)" style="font-family:&quot;Liberation Serif&quot;,serif;font-size:3.7px" fill="#333">1</text><text transform="translate(80.53 451.00) scale(1.120 1)" style="font-family:&quot;Liberation Serif&quot;,serif;font-size:5.9px" fill="#333">3</text><rect x="85.11" y="448.00" width="2.1" height="2.1" fill="#7a7a7a"/><text transform="translate(88.52 451.00) scale(1.120 1)" style="font-family:&quot;Liberation Serif&quot;,serif;font-size:5.9px" fill="#333">10</text><rect x="94.96" y="448.10" width="1.4" height="0.5" fill="#888"/><text transform="translate(96.39 449.30) scale(1.100 1)" style="font-family:&quot;Liberation Serif&quot;,serif;font-size:3.7px" fill="#333">1</text><text transform="translate(116.01 451.00) scale(1.120 1)" style="font-family:&quot;Liberation Serif&quot;,serif;font-size:5.9px" fill="#333">4</text><rect x="120.59" y="448.00" width="2.1" height="2.1" fill="#7a7a7a"/><text transform="translate(124.00 451.00) scale(1.120 1)" style="font-family:&quot;Liberation Serif&quot;,serif;font-size:5.9px" fill="#333">10</text><rect x="130.44" y="448.10" width="1.4" height="0.5" fill="#888"/><text transform="translate(131.88 449.30) scale(1.100 1)" style="font-family:&quot;Liberation Serif&quot;,serif;font-size:3.7px" fill="#333">1</text><text transform="translate(166.02 451.00) scale(1.120 1)" style="font-family:&quot;Liberation Serif&quot;,serif;font-size:5.9px" fill="#333">6</text><rect x="170.60" y="448.00" width="2.1" height="2.1" fill="#7a7a7a"/><text transform="translate(174.01 451.00) scale(1.120 1)" style="font-family:&quot;Liberation Serif&quot;,serif;font-size:5.9px" fill="#333">10</text><rect x="180.45" y="448.10" width="1.4" height="0.5" fill="#888"/><text transform="translate(181.89 449.30) scale(1.100 1)" style="font-family:&quot;Liberation Serif&quot;,serif;font-size:3.7px" fill="#333">1</text><text transform="translate(314.55 451.00) scale(1.120 1)" style="font-family:&quot;Liberation Serif&quot;,serif;font-size:5.9px" fill="#333">2</text><rect x="319.10" y="448.00" width="2.1" height="2.1" fill="#7a7a7a"/><text transform="translate(322.51 451.00) scale(1.120 1)" style="font-family:&quot;Liberation Serif&quot;,serif;font-size:5.9px" fill="#333">10</text><text transform="translate(328.89 449.30) scale(1.100 1)" style="font-family:&quot;Liberation Serif&quot;,serif;font-size:3.7px" fill="#333">0</text><text transform="translate(228.40 456.00) scale(1.150 1)" style="font-family:&quot;Liberation Serif&quot;,serif;font-size:11.7px" fill="#111" stroke="#111" stroke-width="0.1">10</text><text transform="translate(242.44 451.70) scale(1.120 1)" style="font-family:&quot;Liberation Serif&quot;,serif;font-size:8.3px" fill="#111" stroke="#111" stroke-width="0.12">0</text><text x="181.5" y="467.6" text-anchor="middle" textLength="43.9" lengthAdjust="spacingAndGlyphs" style="font-family:&quot;Liberation Sans&quot;,sans-serif;font-size:11px" fill="#111" stroke="#111" stroke-width="0.2">q values</text><text transform="translate(8.7 350.5) rotate(-90)" x="0" y="0" text-anchor="middle" textLength="134.5" lengthAdjust="spacingAndGlyphs" style="font-family:&quot;Liberation Sans&quot;,sans-serif;font-size:11px" fill="#111" stroke="#111" stroke-width="0.2">Change in SK2 Amplitude</text><rect x="188.5" y="261" width="130.1" height="102" rx="2" ry="2" fill="#ffffff" fill-opacity="0.8" stroke="#e4e4e4" stroke-width="0.8"/><line x1="191.2" y1="267.85" x2="208.8" y2="267.85" stroke="#0000ff" stroke-width="0.8"/><circle cx="200" cy="267.85" r="1.6" fill="#0000ff"/><text x="215.5" y="270.75" textLength="61.7" lengthAdjust="spacingAndGlyphs" style="font-family:&quot;Liberation Sans&quot;,sans-serif;font-size:9px" fill="#1a1a1a" stroke="#1a1a1a" stroke-width="0.2">p=0.4 Original</text><line x1="191.2" y1="280.29" x2="208.8" y2="280.29" stroke="#2828d8" stroke-width="1.25" stroke-dasharray="2.9 1.6"/><text x="215.5" y="283.19" textLength="99.7" lengthAdjust="spacingAndGlyphs" style="font-family:&quot;Liberation Sans&quot;,sans-serif;font-size:9px" fill="#1a1a1a" stroke="#1a1a1a" stroke-width="0.2">p=0.4 Fitted Power-Law</text><line x1="191.2" y1="292.72" x2="208.8" y2="292.72" stroke="#008000" stroke-width="0.8"/><circle cx="200" cy="292.72" r="1.6" fill="#008000"/><text x="215.5" y="295.62" textLength="61.7" lengthAdjust="spacingAndGlyphs" style="font-family:&quot;Liberation Sans&quot;,sans-serif;font-size:9px" fill="#1a1a1a" stroke="#1a1a1a" stroke-width="0.2">p=0.5 Original</text><line x1="191.2" y1="305.16" x2="208.8" y2="305.16" stroke="#1e801e" stroke-width="1.25" stroke-dasharray="2.9 1.6"/><text x="215.5" y="308.06" textLength="99.7" lengthAdjust="spacingAndGlyphs" style="font-family:&quot;Liberation Sans&quot;,sans-serif;font-size:9px" fill="#1a1a1a" stroke="#1a1a1a" stroke-width="0.2">p=0.5 Fitted Power-Law</text><line x1="191.2" y1="317.59" x2="208.8" y2="317.59" stroke="#ff0000" stroke-width="0.8"/><circle cx="200" cy="317.59" r="1.6" fill="#ff0000"/><text x="215.5" y="320.49" textLength="61.7" lengthAdjust="spacingAndGlyphs" style="font-family:&quot;Liberation Sans&quot;,sans-serif;font-size:9px" fill="#1a1a1a" stroke="#1a1a1a" stroke-width="0.2">p=0.6 Original</text><line x1="191.2" y1="330.03" x2="208.8" y2="330.03" stroke="#d82028" stroke-width="1.25" stroke-dasharray="2.9 1.6"/><text x="215.5" y="332.93" textLength="99.7" lengthAdjust="spacingAndGlyphs" style="font-family:&quot;Liberation Sans&quot;,sans-serif;font-size:9px" fill="#1a1a1a" stroke="#1a1a1a" stroke-width="0.2">p=0.6 Fitted Power-Law</text><line x1="191.2" y1="342.47" x2="208.8" y2="342.47" stroke="#bf00bf" stroke-width="0.8"/><circle cx="200" cy="342.47" r="1.6" fill="#bf00bf"/><text x="215.5" y="345.37" textLength="61.7" lengthAdjust="spacingAndGlyphs" style="font-family:&quot;Liberation Sans&quot;,sans-serif;font-size:9px" fill="#1a1a1a" stroke="#1a1a1a" stroke-width="0.2">p=0.7 Original</text><line x1="191.2" y1="354.9" x2="208.8" y2="354.9" stroke="#a820a8" stroke-width="1.25" stroke-dasharray="2.9 1.6"/><text x="215.5" y="357.8" textLength="99.7" lengthAdjust="spacingAndGlyphs" style="font-family:&quot;Liberation Sans&quot;,sans-serif;font-size:9px" fill="#1a1a1a" stroke="#1a1a1a" stroke-width="0.2">p=0.7 Fitted Power-Law</text><text x="165.5" y="493.5" text-anchor="middle" textLength="44.3" lengthAdjust="spacingAndGlyphs" style="font-family:&quot;Liberation Serif&quot;,serif;font-size:18.6px" fill="#000">(<tspan stroke="#000" stroke-width="0.6">B.1</tspan>)</text></g>
<g><path d="M443.5 256.5V444.5M478.5 256.5V444.5M506.5 256.5V444.5M528.5 256.5V444.5M547.5 256.5V444.5M564.5 256.5V444.5M578.5 256.5V444.5M591.5 256.5V444.5M393.5 381.5H677.5M393.5 319.5H677.5" stroke="#f2f2f2" stroke-width="1" fill="none"/><g clip-path="url(#cB2)"><polyline points="393.5,268.65 443.51,318.9 478.99,340.3 506.51,355.83 529,367.39 548.02,374.69 564.49,384.7 579.01,391.54 592.01,395.74 603.76,400.7 614.49,400.7 624.37,406.77 633.51,414.6 642.02,414.6 649.98,425.64 657.45,414.6 664.5,425.64 671.17,444.5 677.5,425.64" fill="none" stroke="#0000ff" stroke-width="0.8" stroke-linejoin="round"/><circle cx="393.5" cy="268.65" r="1.6" fill="#0000ff"/><circle cx="443.51" cy="318.9" r="1.6" fill="#0000ff"/><circle cx="478.99" cy="340.3" r="1.6" fill="#0000ff"/><circle cx="506.51" cy="355.83" r="1.6" fill="#0000ff"/><circle cx="529" cy="367.39" r="1.6" fill="#0000ff"/><circle cx="548.02" cy="374.69" r="1.6" fill="#0000ff"/><circle cx="564.49" cy="384.7" r="1.6" fill="#0000ff"/><circle cx="579.01" cy="391.54" r="1.6" fill="#0000ff"/><circle cx="592.01" cy="395.74" r="1.6" fill="#0000ff"/><circle cx="603.76" cy="400.7" r="1.6" fill="#0000ff"/><circle cx="614.49" cy="400.7" r="1.6" fill="#0000ff"/><circle cx="624.37" cy="406.77" r="1.6" fill="#0000ff"/><circle cx="633.51" cy="414.6" r="1.6" fill="#0000ff"/><circle cx="642.02" cy="414.6" r="1.6" fill="#0000ff"/><circle cx="649.98" cy="425.64" r="1.6" fill="#0000ff"/><circle cx="657.45" cy="414.6" r="1.6" fill="#0000ff"/><circle cx="664.5" cy="425.64" r="1.6" fill="#0000ff"/><circle cx="671.17" cy="444.5" r="1.6" fill="#0000ff"/><circle cx="677.5" cy="425.64" r="1.6" fill="#0000ff"/><line x1="393.5" y1="305.3" x2="677.5" y2="433.7" stroke="#2828d8" stroke-width="1.25" stroke-dasharray="2.9 1.6"/><polyline points="393.5,267.81 443.51,319.72 478.99,341.51 506.51,356.9 529,367.39 548.02,376.87 564.49,384.7 579.01,391.54 592.01,395.74 603.76,406.77 614.49,406.77 624.37,406.77 633.51,425.64 642.02,414.6 649.98,425.64 657.45,425.64 664.5,425.64 671.17,425.64 677.5,444.5" fill="none" stroke="#008000" stroke-width="0.8" stroke-linejoin="round"/><circle cx="393.5" cy="267.81" r="1.6" fill="#008000"/><circle cx="443.51" cy="319.72" r="1.6" fill="#008000"/><circle cx="478.99" cy="341.51" r="1.6" fill="#008000"/><circle cx="506.51" cy="356.9" r="1.6" fill="#008000"/><circle cx="529" cy="367.39" r="1.6" fill="#008000"/><circle cx="548.02" cy="376.87" r="1.6" fill="#008000"/><circle cx="564.49" cy="384.7" r="1.6" fill="#008000"/><circle cx="579.01" cy="391.54" r="1.6" fill="#008000"/><circle cx="592.01" cy="395.74" r="1.6" fill="#008000"/><circle cx="603.76" cy="406.77" r="1.6" fill="#008000"/><circle cx="614.49" cy="406.77" r="1.6" fill="#008000"/><circle cx="624.37" cy="406.77" r="1.6" fill="#008000"/><circle cx="633.51" cy="425.64" r="1.6" fill="#008000"/><circle cx="642.02" cy="414.6" r="1.6" fill="#008000"/><circle cx="649.98" cy="425.64" r="1.6" fill="#008000"/><circle cx="657.45" cy="425.64" r="1.6" fill="#008000"/><circle cx="664.5" cy="425.64" r="1.6" fill="#008000"/><circle cx="671.17" cy="425.64" r="1.6" fill="#008000"/><circle cx="677.5" cy="444.5" r="1.6" fill="#008000"/><line x1="393.5" y1="306" x2="677.5" y2="436" stroke="#1e801e" stroke-width="1.25" stroke-dasharray="2.9 1.6"/><polyline points="393.5,267 443.51,320.56 478.99,342.78 506.51,358.01 529,369.04 548.02,379.24 564.49,387.91 579.01,391.54 592.01,400.7 603.76,400.7 614.49,414.6 624.37,414.6 633.51,414.6 642.02,414.6 649.98,425.64 657.45,425.64 664.5,444.5 671.17,425.64 677.5,444.5" fill="none" stroke="#ff0000" stroke-width="0.8" stroke-linejoin="round"/><circle cx="393.5" cy="267" r="1.6" fill="#ff0000"/><circle cx="443.51" cy="320.56" r="1.6" fill="#ff0000"/><circle cx="478.99" cy="342.78" r="1.6" fill="#ff0000"/><circle cx="506.51" cy="358.01" r="1.6" fill="#ff0000"/><circle cx="529" cy="369.04" r="1.6" fill="#ff0000"/><circle cx="548.02" cy="379.24" r="1.6" fill="#ff0000"/><circle cx="564.49" cy="387.91" r="1.6" fill="#ff0000"/><circle cx="579.01" cy="391.54" r="1.6" fill="#ff0000"/><circle cx="592.01" cy="400.7" r="1.6" fill="#ff0000"/><circle cx="603.76" cy="400.7" r="1.6" fill="#ff0000"/><circle cx="614.49" cy="414.6" r="1.6" fill="#ff0000"/><circle cx="624.37" cy="414.6" r="1.6" fill="#ff0000"/><circle cx="633.51" cy="414.6" r="1.6" fill="#ff0000"/><circle cx="642.02" cy="414.6" r="1.6" fill="#ff0000"/><circle cx="649.98" cy="425.64" r="1.6" fill="#ff0000"/><circle cx="657.45" cy="425.64" r="1.6" fill="#ff0000"/><circle cx="664.5" cy="444.5" r="1.6" fill="#ff0000"/><circle cx="671.17" cy="425.64" r="1.6" fill="#ff0000"/><circle cx="677.5" cy="444.5" r="1.6" fill="#ff0000"/><line x1="393.5" y1="306.5" x2="677.5" y2="438.2" stroke="#d82028" stroke-width="1.25" stroke-dasharray="2.9 1.6"/><polyline points="393.5,266.21 443.51,321.14 478.99,344.1 506.51,359.17 529,370.8 548.02,381.83 564.49,387.91 579.01,395.74 592.01,400.7 603.76,400.7 614.49,414.6 624.37,414.6 633.51,414.6 642.02,425.64 649.98,425.64 657.45,425.64 664.5,444.5 671.17,425.64 677.5,444.5" fill="none" stroke="#bf00bf" stroke-width="0.8" stroke-linejoin="round"/><circle cx="393.5" cy="266.21" r="1.6" fill="#bf00bf"/><circle cx="443.51" cy="321.14" r="1.6" fill="#bf00bf"/><circle cx="478.99" cy="344.1" r="1.6" fill="#bf00bf"/><circle cx="506.51" cy="359.17" r="1.6" fill="#bf00bf"/><circle cx="529" cy="370.8" r="1.6" fill="#bf00bf"/><circle cx="548.02" cy="381.83" r="1.6" fill="#bf00bf"/><circle cx="564.49" cy="387.91" r="1.6" fill="#bf00bf"/><circle cx="579.01" cy="395.74" r="1.6" fill="#bf00bf"/><circle cx="592.01" cy="400.7" r="1.6" fill="#bf00bf"/><circle cx="603.76" cy="400.7" r="1.6" fill="#bf00bf"/><circle cx="614.49" cy="414.6" r="1.6" fill="#bf00bf"/><circle cx="624.37" cy="414.6" r="1.6" fill="#bf00bf"/><circle cx="633.51" cy="414.6" r="1.6" fill="#bf00bf"/><circle cx="642.02" cy="425.64" r="1.6" fill="#bf00bf"/><circle cx="649.98" cy="425.64" r="1.6" fill="#bf00bf"/><circle cx="657.45" cy="425.64" r="1.6" fill="#bf00bf"/><circle cx="664.5" cy="444.5" r="1.6" fill="#bf00bf"/><circle cx="671.17" cy="425.64" r="1.6" fill="#bf00bf"/><circle cx="677.5" cy="444.5" r="1.6" fill="#bf00bf"/><line x1="393.5" y1="307.5" x2="677.5" y2="438.8" stroke="#a820a8" stroke-width="1.25" stroke-dasharray="2.9 1.6"/></g><rect x="393.5" y="256.5" width="284" height="188" fill="none" stroke="#a8a8a8" stroke-width="1"/><path d="M391.7 444.5H393.5M391.7 381.83H393.5M391.7 319.17H393.5M391.7 256.5H393.5M393.5 444.5V445.8M443.5 444.5V445.8M478.5 444.5V445.8M506.5 444.5V445.8M528.5 444.5V445.8M547.5 444.5V445.8M564.5 444.5V445.8M578.5 444.5V445.8M591.5 444.5V445.8M677.5 444.5V445.8" stroke="#a0a0a0" stroke-width="0.8" fill="none"/><text transform="translate(366.49 449.30) scale(1.150 1)" style="font-family:&quot;Liberation Serif&quot;,serif;font-size:11.7px" fill="#111" stroke="#111" stroke-width="0.1">10</text><rect x="380.90" y="442.20" width="4.8" height="0.75" fill="#222"/><text transform="translate(386.38 445.50) scale(1.120 1)" style="font-family:&quot;Liberation Serif&quot;,serif;font-size:8.3px" fill="#111" stroke="#111" stroke-width="0.12">2</text><text transform="translate(366.49 386.63) scale(1.150 1)" style="font-family:&quot;Liberation Serif&quot;,serif;font-size:11.7px" fill="#111" stroke="#111" stroke-width="0.1">10</text><rect x="380.90" y="379.53" width="4.8" height="0.75" fill="#222"/><text transform="translate(385.96 382.83) scale(1.120 1)" style="font-family:&quot;Liberation Serif&quot;,serif;font-size:8.3px" fill="#111" stroke="#111" stroke-width="0.12">1</text><text transform="translate(372.39 323.97) scale(1.150 1)" style="font-family:&quot;Liberation Serif&quot;,serif;font-size:11.7px" fill="#111" stroke="#111" stroke-width="0.1">10</text><text transform="translate(386.13 320.17) scale(1.120 1)" style="font-family:&quot;Liberation Serif&quot;,serif;font-size:8.3px" fill="#111" stroke="#111" stroke-width="0.12">0</text><text transform="translate(372.39 261.30) scale(1.150 1)" style="font-family:&quot;Liberation Serif&quot;,serif;font-size:11.7px" fill="#111" stroke="#111" stroke-width="0.1">10</text><text transform="translate(385.66 257.50) scale(1.120 1)" style="font-family:&quot;Liberation Serif&quot;,serif;font-size:8.3px" fill="#111" stroke="#111" stroke-width="0.12">1</text><text transform="translate(384.55 451.00) scale(1.120 1)" style="font-family:&quot;Liberation Serif&quot;,serif;font-size:5.9px" fill="#333">2</text><rect x="389.10" y="448.00" width="2.1" height="2.1" fill="#7a7a7a"/><text transform="translate(392.51 451.00) scale(1.120 1)" style="font-family:&quot;Liberation Serif&quot;,serif;font-size:5.9px" fill="#333">10</text><rect x="398.95" y="448.10" width="1.4" height="0.5" fill="#888"/><text transform="translate(400.38 449.30) scale(1.100 1)" style="font-family:&quot;Liberation Serif&quot;,serif;font-size:3.7px" fill="#333">1</text><text transform="translate(434.53 451.00) scale(1.120 1)" style="font-family:&quot;Liberation Serif&quot;,serif;font-size:5.9px" fill="#333">3</text><rect x="439.11" y="448.00" width="2.1" height="2.1" fill="#7a7a7a"/><text transform="translate(442.52 451.00) scale(1.120 1)" style="font-family:&quot;Liberation Serif&quot;,serif;font-size:5.9px" fill="#333">10</text><rect x="448.96" y="448.10" width="1.4" height="0.5" fill="#888"/><text transform="translate(450.39 449.30) scale(1.100 1)" style="font-family:&quot;Liberation Serif&quot;,serif;font-size:3.7px" fill="#333">1</text><text transform="translate(470.01 451.00) scale(1.120 1)" style="font-family:&quot;Liberation Serif&quot;,serif;font-size:5.9px" fill="#333">4</text><rect x="474.59" y="448.00" width="2.1" height="2.1" fill="#7a7a7a"/><text transform="translate(478.00 451.00) scale(1.120 1)" style="font-family:&quot;Liberation Serif&quot;,serif;font-size:5.9px" fill="#333">10</text><rect x="484.44" y="448.10" width="1.4" height="0.5" fill="#888"/><text transform="translate(485.88 449.30) scale(1.100 1)" style="font-family:&quot;Liberation Serif&quot;,serif;font-size:3.7px" fill="#333">1</text><text transform="translate(520.02 451.00) scale(1.120 1)" style="font-family:&quot;Liberation Serif&quot;,serif;font-size:5.9px" fill="#333">6</text><rect x="524.60" y="448.00" width="2.1" height="2.1" fill="#7a7a7a"/><text transform="translate(528.01 451.00) scale(1.120 1)" style="font-family:&quot;Liberation Serif&quot;,serif;font-size:5.9px" fill="#333">10</text><rect x="534.45" y="448.10" width="1.4" height="0.5" fill="#888"/><text transform="translate(535.89 449.30) scale(1.100 1)" style="font-family:&quot;Liberation Serif&quot;,serif;font-size:3.7px" fill="#333">1</text><text transform="translate(668.55 451.00) scale(1.120 1)" style="font-family:&quot;Liberation Serif&quot;,serif;font-size:5.9px" fill="#333">2</text><rect x="673.10" y="448.00" width="2.1" height="2.1" fill="#7a7a7a"/><text transform="translate(676.51 451.00) scale(1.120 1)" style="font-family:&quot;Liberation Serif&quot;,serif;font-size:5.9px" fill="#333">10</text><text transform="translate(682.89 449.30) scale(1.100 1)" style="font-family:&quot;Liberation Serif&quot;,serif;font-size:3.7px" fill="#333">0</text><text transform="translate(582.40 456.00) scale(1.150 1)" style="font-family:&quot;Liberation Serif&quot;,serif;font-size:11.7px" fill="#111" stroke="#111" stroke-width="0.1">10</text><text transform="translate(596.44 451.70) scale(1.120 1)" style="font-family:&quot;Liberation Serif&quot;,serif;font-size:8.3px" fill="#111" stroke="#111" stroke-width="0.12">0</text><text x="535.5" y="467.6" text-anchor="middle" textLength="43.9" lengthAdjust="spacingAndGlyphs" style="font-family:&quot;Liberation Sans&quot;,sans-serif;font-size:11px" fill="#111" stroke="#111" stroke-width="0.2">p values</text><text transform="translate(362.7 350.5) rotate(-90)" x="0" y="0" text-anchor="middle" textLength="134.5" lengthAdjust="spacingAndGlyphs" style="font-family:&quot;Liberation Sans&quot;,sans-serif;font-size:11px" fill="#111" stroke="#111" stroke-width="0.2">Change in SK2 Amplitude</text><rect x="542.5" y="261" width="130.1" height="102" rx="2" ry="2" fill="#ffffff" fill-opacity="0.8" stroke="#e4e4e4" stroke-width="0.8"/><line x1="545.2" y1="267.85" x2="562.8" y2="267.85" stroke="#0000ff" stroke-width="0.8"/><circle cx="554" cy="267.85" r="1.6" fill="#0000ff"/><text x="569.5" y="270.75" textLength="61.7" lengthAdjust="spacingAndGlyphs" style="font-family:&quot;Liberation Sans&quot;,sans-serif;font-size:9px" fill="#1a1a1a" stroke="#1a1a1a" stroke-width="0.2">q=0.4 Original</text><line x1="545.2" y1="280.29" x2="562.8" y2="280.29" stroke="#2828d8" stroke-width="1.25" stroke-dasharray="2.9 1.6"/><text x="569.5" y="283.19" textLength="99.7" lengthAdjust="spacingAndGlyphs" style="font-family:&quot;Liberation Sans&quot;,sans-serif;font-size:9px" fill="#1a1a1a" stroke="#1a1a1a" stroke-width="0.2">q=0.4 Fitted Power-Law</text><line x1="545.2" y1="292.72" x2="562.8" y2="292.72" stroke="#008000" stroke-width="0.8"/><circle cx="554" cy="292.72" r="1.6" fill="#008000"/><text x="569.5" y="295.62" textLength="61.7" lengthAdjust="spacingAndGlyphs" style="font-family:&quot;Liberation Sans&quot;,sans-serif;font-size:9px" fill="#1a1a1a" stroke="#1a1a1a" stroke-width="0.2">q=0.5 Original</text><line x1="545.2" y1="305.16" x2="562.8" y2="305.16" stroke="#1e801e" stroke-width="1.25" stroke-dasharray="2.9 1.6"/><text x="569.5" y="308.06" textLength="99.7" lengthAdjust="spacingAndGlyphs" style="font-family:&quot;Liberation Sans&quot;,sans-serif;font-size:9px" fill="#1a1a1a" stroke="#1a1a1a" stroke-width="0.2">q=0.5 Fitted Power-Law</text><line x1="545.2" y1="317.59" x2="562.8" y2="317.59" stroke="#ff0000" stroke-width="0.8"/><circle cx="554" cy="317.59" r="1.6" fill="#ff0000"/><text x="569.5" y="320.49" textLength="61.7" lengthAdjust="spacingAndGlyphs" style="font-family:&quot;Liberation Sans&quot;,sans-serif;font-size:9px" fill="#1a1a1a" stroke="#1a1a1a" stroke-width="0.2">q=0.6 Original</text><line x1="545.2" y1="330.03" x2="562.8" y2="330.03" stroke="#d82028" stroke-width="1.25" stroke-dasharray="2.9 1.6"/><text x="569.5" y="332.93" textLength="99.7" lengthAdjust="spacingAndGlyphs" style="font-family:&quot;Liberation Sans&quot;,sans-serif;font-size:9px" fill="#1a1a1a" stroke="#1a1a1a" stroke-width="0.2">q=0.6 Fitted Power-Law</text><line x1="545.2" y1="342.47" x2="562.8" y2="342.47" stroke="#bf00bf" stroke-width="0.8"/><circle cx="554" cy="342.47" r="1.6" fill="#bf00bf"/><text x="569.5" y="345.37" textLength="61.7" lengthAdjust="spacingAndGlyphs" style="font-family:&quot;Liberation Sans&quot;,sans-serif;font-size:9px" fill="#1a1a1a" stroke="#1a1a1a" stroke-width="0.2">q=0.7 Original</text><line x1="545.2" y1="354.9" x2="562.8" y2="354.9" stroke="#a820a8" stroke-width="1.25" stroke-dasharray="2.9 1.6"/><text x="569.5" y="357.8" textLength="99.7" lengthAdjust="spacingAndGlyphs" style="font-family:&quot;Liberation Sans&quot;,sans-serif;font-size:9px" fill="#1a1a1a" stroke="#1a1a1a" stroke-width="0.2">q=0.7 Fitted Power-Law</text><text x="519.7" y="493.5" text-anchor="middle" textLength="44.3" lengthAdjust="spacingAndGlyphs" style="font-family:&quot;Liberation Serif&quot;,serif;font-size:18.6px" fill="#000">(<tspan stroke="#000" stroke-width="0.6">B.2</tspan>)</text></g></svg>
</body></html>
